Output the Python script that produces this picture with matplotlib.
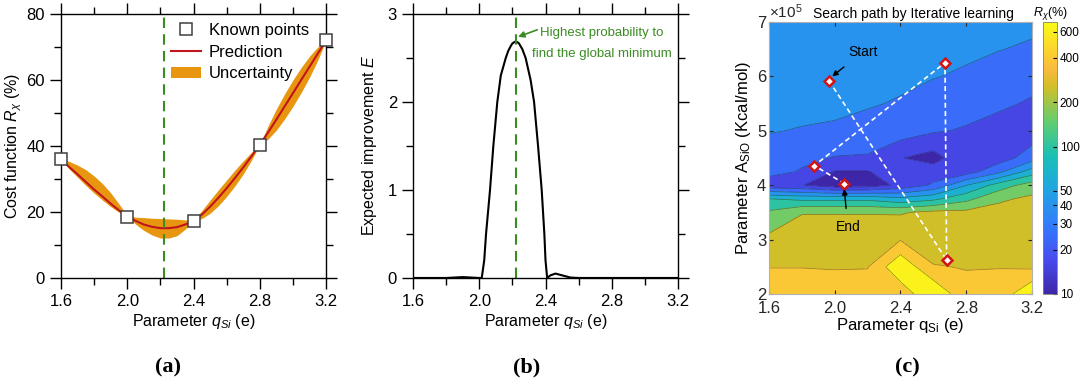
import numpy as np
import matplotlib
matplotlib.use('Agg')
import matplotlib.pyplot as plt
from matplotlib.colors import LinearSegmentedColormap, LogNorm, Normalize
from matplotlib.cm import ScalarMappable
from matplotlib.ticker import MultipleLocator, FormatStrFormatter

plt.rcParams['font.family'] = ['Liberation Sans', 'DejaVu Sans']
plt.rcParams['mathtext.fontset'] = 'custom'
plt.rcParams['mathtext.rm'] = 'Liberation Sans'
plt.rcParams['mathtext.it'] = 'Liberation Sans:italic'
plt.rcParams['mathtext.bf'] = 'Liberation Sans:bold'

# ---- (a) cost function: known points, prediction, uncertainty band
known_q = [1.6, 2.0, 2.4, 2.8, 3.2]
known_r = [36.0, 18.6, 17.4, 40.3, 72.1]

curve_q = [1.60, 1.65, 1.70, 1.75, 1.80, 1.85, 1.90, 1.95, 2.00, 2.05, 2.10,
           2.15, 2.20, 2.25, 2.30, 2.35, 2.40, 2.45, 2.50, 2.55, 2.60, 2.65,
           2.70, 2.75, 2.80, 2.85, 2.90, 2.95, 3.00, 3.05, 3.10, 3.15, 3.20]
pred_r = [36.0, 33.6, 31.4, 29.1, 26.8, 24.7, 22.5, 20.5, 18.7, 17.3, 16.2,
          15.5, 15.1, 15.1, 15.4, 16.2, 17.4, 19.2, 21.6, 24.3, 27.2, 30.3,
          33.5, 36.9, 40.4, 44.1, 48.0, 52.0, 56.0, 60.0, 64.0, 68.0, 72.0]
band_lo = [36.0, 33.0, 30.5, 28.0, 25.7, 23.6, 21.6, 19.9, 18.7, 16.3, 14.4,
           13.0, 12.1, 12.1, 12.8, 14.8, 17.4, 18.0, 19.6, 21.9, 24.7, 27.9,
           31.5, 35.7, 40.4, 42.1, 44.8, 48.2, 52.0, 56.2, 60.8, 66.0, 72.0]
band_hi = [36.0, 35.3, 34.2, 32.8, 30.9, 28.6, 25.8, 22.4, 19.0, 18.4, 18.3,
           18.1, 18.0, 17.9, 17.8, 17.6, 17.5, 20.4, 23.6, 26.7, 29.7, 32.7,
           35.5, 38.1, 40.4, 46.1, 51.2, 55.8, 60.0, 63.8, 67.2, 70.0, 72.0]
q_best = 2.22

# ---- (b) expected improvement
ei_q = [1.60, 1.80, 1.85, 1.90, 1.95, 2.00, 2.015, 2.03, 2.041, 2.065, 2.085,
        2.109, 2.13, 2.16, 2.175, 2.19, 2.20, 2.216, 2.23, 2.24, 2.26, 2.28,
        2.31, 2.331, 2.355, 2.377, 2.393, 2.40, 2.41, 2.43, 2.46, 2.50, 2.55,
        2.60, 3.20]
ei_val = [0, 0, 0.005, 0.01, 0.005, 0, 0, 0.2, 0.5, 1.0, 1.5,
          2.0, 2.3, 2.5, 2.58, 2.635, 2.665, 2.685, 2.68, 2.665, 2.6, 2.5,
          2.25, 2.0, 1.5, 1.0, 0.5, 0.2, 0.0, 0.03, 0.05, 0.03, 0.005,
          0, 0]

# ---- (c) R_x (%) map over q_Si and A_SiO (x1e5 Kcal/mol)
map_q = [1.6, 1.8, 2.0, 2.2, 2.4, 2.6, 2.8, 3.0, 3.2]
map_a = [2.0, 2.5, 3.0, 3.5, 3.75, 4.0, 4.25, 4.5, 5.0, 5.5, 6.0, 6.5, 7.0]
map_rx = [
    [501, 501, 479, 525, 457, 1000, 427, 457, 1000],
    [394, 394, 389, 389, 933, 403, 394, 394, 367],
    [282, 331, 339, 339, 389, 355, 331, 331, 331],
    [170, 245, 245, 245, 240, 282, 282, 295, 302],
    [100, 89, 89, 89, 71, 89, 138, 233, 275],
    [17.8, 16.2, 12.0, 12.3, 17.8, 26.9, 61.7, 123, 198],
    [30.5, 24.0, 15.5, 15.5, 20.0, 20.0, 20.0, 35.5, 78.2],
    [33.1, 28.2, 24.5, 24.0, 16.2, 13.2, 22.4, 20.0, 32.0],
    [40.7, 38.9, 35.5, 33.1, 31.6, 26.3, 24.0, 21.4, 19.1],
    [45.7, 44.7, 47.9, 41.7, 38.0, 31.6, 30.2, 26.9, 24.0],
    [49.0, 49.0, 51.3, 46.8, 44.7, 40.7, 37.2, 33.1, 28.8],
    [52.5, 52.5, 53.7, 51.3, 49.0, 45.7, 43.7, 40.3, 37.6],
    [55.0, 55.0, 56.2, 55.0, 52.5, 50.1, 47.9, 44.7, 43.7],
]
path_q = [1.965, 2.681, 2.671, 1.876, 2.058]
path_a = [5.92, 2.625, 6.25, 4.36, 4.03]
cbar_ticks = [10, 20, 30, 40, 50, 100, 200, 400, 600]

# parula-like colormap (anchor position, rgb)
parula = LinearSegmentedColormap.from_list('parula', [
    (0 / 63, (0.2422, 0.1504, 0.6603)), (8 / 63, (0.2813, 0.3006, 0.9414)),
    (16 / 63, (0.1963, 0.4847, 0.9892)), (24 / 63, (0.1248, 0.6459, 0.8883)),
    (32 / 63, (0.0964, 0.7500, 0.7120)), (40 / 63, (0.3909, 0.8029, 0.4354)),
    (48 / 63, (0.8203, 0.7498, 0.1535)), (52 / 63, (0.9728, 0.7298, 0.2394)),
    (56 / 63, (0.9892, 0.8136, 0.1885)), (63 / 63, (0.9769, 0.9839, 0.0805))])

green = '#3b8c22'
orange = '#e8960f'

fig = plt.figure(figsize=(10.8, 3.85), dpi=100)
ax1 = fig.add_axes([0.0565, 0.278, 0.2454, 0.6857])
ax2 = fig.add_axes([0.3824, 0.278, 0.2454, 0.6857])
ax3 = fig.add_axes([0.7120, 0.2364, 0.2435, 0.7065])
cax = fig.add_axes([0.9657, 0.2364, 0.0130, 0.7065])


def style_box(ax):
    ax.tick_params(which='both', direction='out', top=True, right=True,
                   labelsize=12, width=1.0)
    ax.tick_params(which='major', length=8)
    ax.tick_params(which='minor', length=5)
    for s in ax.spines.values():
        s.set_linewidth(1.0)


# (a)
ax1.fill_between(curve_q, band_lo, band_hi, color=orange, lw=0, label='Uncertainty')
ax1.plot(curve_q, pred_r, color='#c0141e', lw=1.5, label='Prediction')
ax1.plot(known_q, known_r, 's', ms=8, mfc='white', mec='#404040', mew=1.1,
         label='Known points', clip_on=False, zorder=5)
ax1.axvline(q_best, color=green, lw=1.5, ls=(0, (5, 3)))
ax1.set_xlim(1.6, 3.2)
ax1.set_ylim(0, 80)
ax1.xaxis.set_major_locator(MultipleLocator(0.4))
ax1.xaxis.set_minor_locator(MultipleLocator(0.2))
ax1.yaxis.set_major_locator(MultipleLocator(20))
ax1.yaxis.set_minor_locator(MultipleLocator(10))
ax1.xaxis.set_major_formatter(FormatStrFormatter('%.1f'))
style_box(ax1)
ax1.set_xlabel(r'Parameter $q_{Si}$ (e)', fontsize=11.5, labelpad=2)
ax1.set_ylabel(r'Cost function $R_\chi$ (%)', fontsize=11.5, labelpad=2)
h, l = ax1.get_legend_handles_labels()
ax1.legend([h[2], h[1], h[0]], [l[2], l[1], l[0]], loc='upper left',
           bbox_to_anchor=(0.37, 1.01), frameon=False, fontsize=12,
           handlelength=1.8, handletextpad=0.5, labelspacing=0.4,
           borderpad=0.2)

# (b)
ax2.plot(ei_q, ei_val, color='black', lw=1.5)
ax2.axvline(q_best, color=green, lw=1.5, ls=(0, (5, 3)))
ax2.set_xlim(1.6, 3.2)
ax2.set_ylim(0, 3)
ax2.xaxis.set_major_locator(MultipleLocator(0.4))
ax2.xaxis.set_minor_locator(MultipleLocator(0.2))
ax2.yaxis.set_major_locator(MultipleLocator(1))
ax2.yaxis.set_minor_locator(MultipleLocator(0.5))
ax2.xaxis.set_major_formatter(FormatStrFormatter('%.1f'))
style_box(ax2)
ax2.set_xlabel(r'Parameter $q_{Si}$ (e)', fontsize=11.5, labelpad=2)
ax2.set_ylabel(r'Expected improvement $E$', fontsize=11.5, labelpad=6)
ax2.text(2.74, 2.665, 'Highest probability to\nfind the global minimum',
         color=green, fontsize=9.5, ha='center', va='center', linespacing=1.9)
ax2.annotate('', xy=(2.234, 2.74), xytext=(2.35, 2.82),
             arrowprops=dict(arrowstyle='-|>', color=green, lw=1.2,
                             mutation_scale=9, shrinkA=0, shrinkB=0))

# (c)
Q, A = np.meshgrid(map_q, map_a)
log_rx = np.log10(np.array(map_rx, dtype=float))
levels = [1.0, 1.2, 1.4, 1.6, 1.8, 2.0, 2.2, 2.4, 2.6, 2.8, 3.2]
cnorm = Normalize(1.0, np.log10(700))
fill_colors = [parula(cnorm(v)) for v in levels[:-1]]
ax3.contourf(Q, A, log_rx, levels=levels, colors=fill_colors)
ax3.contour(Q, A, log_rx, levels=levels[1:-1], colors='#222222',
            linewidths=0.5, alpha=0.5)
ax3.plot(path_q, path_a, color='white', lw=1.2, ls=(0, (3, 2)))
ax3.plot(path_q, path_a, 'D', ms=5, mfc='white', mec='#d21414', mew=1.8)
ax3.annotate('Start', xy=(path_q[0] + 0.02, path_a[0] + 0.08),
             xytext=(2.17, 6.45), fontsize=10, ha='center', va='center',
             arrowprops=dict(arrowstyle='-|>', color='black', lw=1.0,
                             mutation_scale=8, shrinkA=6, shrinkB=0))
ax3.annotate('End', xy=(path_q[4], path_a[4] - 0.1),
             xytext=(2.08, 3.24), fontsize=10, ha='center', va='center',
             arrowprops=dict(arrowstyle='-|>', color='black', lw=1.0,
                             mutation_scale=8, shrinkA=6, shrinkB=0))
ax3.set_xlim(1.6, 3.2)
ax3.set_ylim(2, 7)
ax3.set_xticks([1.6, 2.0, 2.4, 2.8, 3.2])
ax3.set_xticklabels(['1.6', '2.0', '2.4', '2.8', '3.2'])
ax3.set_yticks([2, 3, 4, 5, 6, 7])
ax3.tick_params(direction='in', length=3, labelsize=12, colors='#262626',
                top=True, right=True, pad=2)
ax3.tick_params(axis='x', pad=5)
for s in ax3.spines.values():
    s.set_color('#b0b0b0')
    s.set_linewidth(0.8)
ax3.set_xlabel(r'Parameter q$_{\mathrm{Si}}$ (e)', fontsize=12, labelpad=0)
ax3.set_ylabel(r'Parameter A$_{\mathrm{SiO}}$ (Kcal/mol)', fontsize=12,
               labelpad=3)
ax3.text(0.0, 1.005, r'$\times10^5$', transform=ax3.transAxes, fontsize=11,
         ha='left', va='bottom', color='#262626')
ax3.set_title('Search path by Iterative learning', fontsize=10, pad=3,
              x=0.55)

sm = ScalarMappable(norm=LogNorm(10, 700), cmap=parula)
cb = fig.colorbar(sm, cax=cax)
cb.set_ticks(cbar_ticks)
cb.set_ticklabels([str(t) for t in cbar_ticks])
cb.minorticks_off()
cb.ax.tick_params(labelsize=8.5, length=3, direction='in', pad=2)
cb.outline.set_linewidth(0.6)
cb.outline.set_edgecolor('#808080')
cax.set_title(r'$R_\chi$(%)', fontsize=9, pad=3)

for x, lab in [(0.156, '(a)'), (0.488, '(b)'), (0.84, '(c)')]:
    fig.text(x, 0.045, lab, fontsize=16, fontweight='bold',
             family='Liberation Serif', ha='center', va='center')

fig.savefig('out.png', dpi=100)
